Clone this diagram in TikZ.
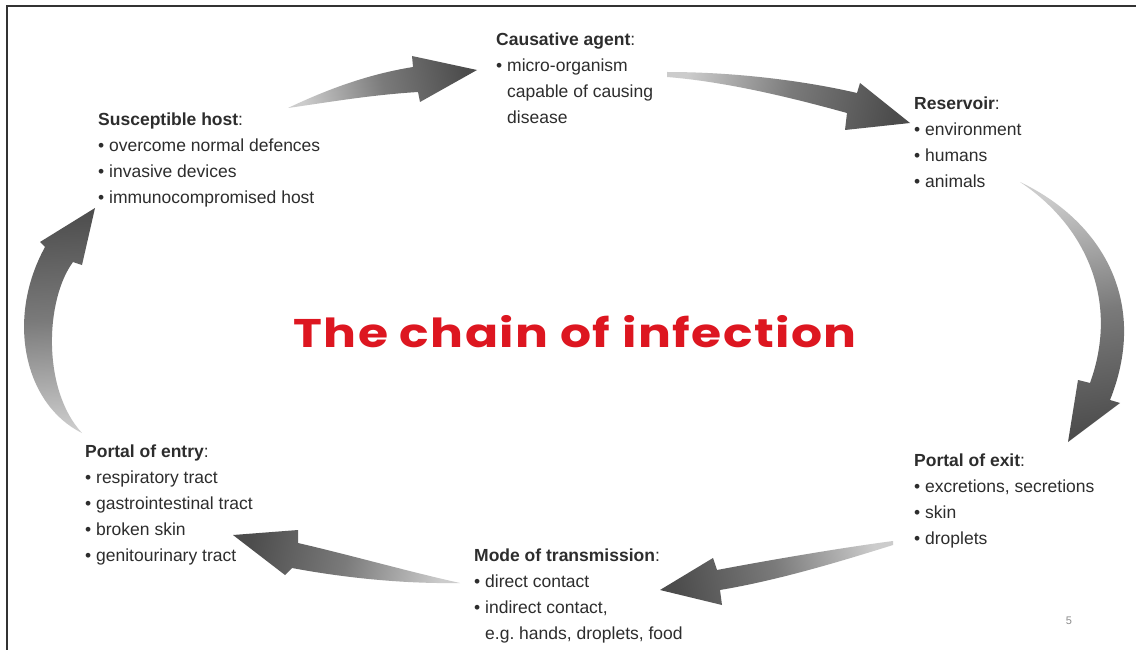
\documentclass[tikz,border=0pt]{standalone}
\usepackage{fontspec}
\setmainfont{Liberation Sans}
\newfontfamily\titlefont[LetterSpace=3]{Poppins}
\usepackage{tikz}
\usetikzlibrary{calc}

\definecolor{txtgray}{RGB}{45,45,45}
\definecolor{chainred}{RGB}{221,22,32}

\tikzset{
  block/.style={anchor=base west, inner sep=0pt, text=txtgray,
    font=\fontsize{17.5}{26}\selectfont},
  flow/.style={draw=none, top color=black!20, bottom color=black!70,
    middle color=black!52, shading angle=#1},
}
\newcommand{\blt}{\textbullet\ }
\newcommand{\ind}{\hphantom{\textbullet\ }}

\begin{document}
\begin{tikzpicture}[x=1pt,y=-1pt]
	\useasboundingbox[fill=white] (0,0) rectangle (1136,650);

	% frame, top and left
	\draw[line width=2pt, black!80] (7,650) -- (7,6) -- (1136,6);

	% title
	\node[text=chainred, inner sep=0pt, anchor=base,
	  font=\titlefont\bfseries\fontsize{40}{40}\selectfont] (title) at (575,347)
	  {\scalebox{1.22}[1]{The chain of infection}};

	% the six links
	\node[block] (agent) at (496,46) {\begin{tabular}[t]{@{}l@{}}
		\textbf{Causative agent}:\\
		\blt micro-organism\\
		\ind capable of causing\\
		\ind disease
		\end{tabular}};
	\node[block] (reservoir) at (914,110) {\begin{tabular}[t]{@{}l@{}}
		\textbf{Reservoir}:\\
		\blt environment\\
		\blt humans\\
		\blt animals
		\end{tabular}};
	\node[block] (exit) at (914,466) {\begin{tabular}[t]{@{}l@{}}
		\textbf{Portal of exit}:\\
		\blt excretions, secretions\\
		\blt skin\\
		\blt droplets
		\end{tabular}};
	\node[block] (mode) at (474,561) {\begin{tabular}[t]{@{}l@{}}
		\textbf{Mode of transmission}:\\
		\blt direct contact\\
		\blt indirect contact,\\
		\ind e.g.\ hands, droplets, food
		\end{tabular}};
	\node[block] (entry) at (85,457) {\begin{tabular}[t]{@{}l@{}}
		\textbf{Portal of entry}:\\
		\blt respiratory tract\\
		\blt gastrointestinal tract\\
		\blt broken skin\\
		\blt genitourinary tract
		\end{tabular}};
	\node[block] (host) at (98,126) {\begin{tabular}[t]{@{}l@{}}
		\textbf{Susceptible host}:\\
		\blt overcome normal defences\\
		\blt invasive devices\\
		\blt immunocompromised host
		\end{tabular}};

	% page number
	\node[text=black!45, inner sep=0pt, font=\fontsize{11}{11}\selectfont] (page) at (1069,621) {5};

	% arrow host -> agent
	\shade[flow=102] (288,108) .. controls (330,88) and (370,74) .. (413,67)
	  -- (412,56) -- (477,70) -- (420,102) -- (418,92)
	  .. controls (370,95) and (330,102) .. (288,108) -- cycle;

	% arrow agent -> reservoir
	\shade[flow=78] (667,72) .. controls (740,72) and (810,82) .. (857,93)
	  -- (860,83) -- (910,123) -- (845,130) -- (847,113)
	  .. controls (800,100) and (730,82) .. (667,77) -- cycle;

	% arrow reservoir -> exit
	\shade[flow=10] (1020,182) .. controls (1100,220) and (1150,300) .. (1110,400)
	  -- (1120,403) -- (1068,442) -- (1078,380) -- (1090,383)
	  .. controls (1120,300) and (1085,225) .. (1020,182) -- cycle;

	% arrow exit -> mode
	\shade[flow=-78] (893,541) .. controls (840,548) and (770,560) .. (717,570)
	  -- (713,558) -- (660,590) -- (722,605) -- (720,590)
	  .. controls (780,580) and (845,560) .. (893,545) -- cycle;

	% arrow mode -> entry
	\shade[flow=-102] (233,535) -- (298,530) -- (298,543)
	  .. controls (350,555) and (410,572) .. (460,583)
	  .. controls (400,584) and (340,577) .. (292,568) -- (285,575) -- cycle;

	% arrow entry -> host
	\shade[flow=183] (95,208) -- (82,265) -- (73,262)
	  .. controls (45,300) and (42,390) .. (82,433)
	  .. controls (25,405) and (5,320) .. (45,247) -- (40,242) -- cycle;
\end{tikzpicture}
\end{document}
